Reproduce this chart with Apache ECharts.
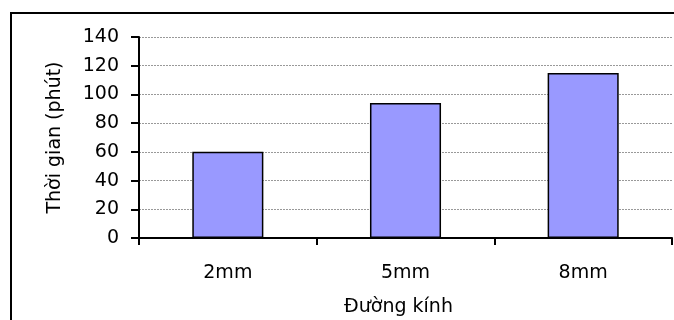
<!DOCTYPE html>
<html>
<head>
<meta charset="utf-8">
<script src="https://cdn.jsdelivr.net/npm/echarts@6/dist/echarts.min.js"></script>
<style>
html,body{margin:0;padding:0;background:#fff;}
#chart{width:674px;height:320px;}
</style>
</head>
<body>
<div id="chart"></div>
<script>
var categories = ['2mm', '5mm', '8mm'];
var values = [60, 94, 115];
var yTicks = { min: 0, max: 140, interval: 20 };
var xTitle = 'Đường kính';
var yTitle = 'Thời gian (phút)';

var FONT = 'DejaVu Sans';
var chart = echarts.init(document.getElementById('chart'), null, { renderer: 'canvas' });
chart.setOption({
  animation: false,
  backgroundColor: '#ffffff',
  graphic: [{
    type: 'rect',
    shape: { x: 11, y: 13, width: 800, height: 500 },
    style: { fill: 'none', stroke: '#000', lineWidth: 2 },
    silent: true,
    z: -1
  }],
  grid: { left: 139, right: 2, top: 37, bottom: 82, containLabel: false, outerBoundsMode: 'none' },
  xAxis: {
    type: 'category',
    data: categories,
    boundaryGap: true,
    name: xTitle,
    nameLocation: 'middle',
    nameGap: 60,
    nameTextStyle: { fontFamily: FONT, fontSize: 19, color: '#000', padding: [0, 14, 0, 0] },
    axisLine: { show: true, lineStyle: { color: '#000', width: 2 } },
    axisTick: { show: true, alignWithLabel: false, length: 7, lineStyle: { color: '#000', width: 2 } },
    axisLabel: { fontFamily: FONT, fontSize: 19, color: '#000', margin: 26 },
    splitLine: { show: false }
  },
  yAxis: {
    type: 'value',
    min: yTicks.min,
    max: yTicks.max,
    interval: yTicks.interval,
    name: yTitle,
    nameLocation: 'middle',
    nameGap: 74,
    nameTextStyle: { fontFamily: FONT, fontSize: 19, color: '#000' },
    axisLine: { show: true, lineStyle: { color: '#000', width: 2 } },
    axisTick: { show: true, length: 8, lineStyle: { color: '#000', width: 2 } },
    axisLabel: { fontFamily: FONT, fontSize: 19, color: '#000', margin: 20 },
    splitLine: { show: true, lineStyle: { color: '#999', width: 1, type: [2, 1] } }
  },
  series: [{
    type: 'bar',
    data: values,
    barWidth: '40%',
    itemStyle: { color: '#9999FF', borderColor: '#000', borderWidth: 1.5 }
  }]
});
</script>
</body>
</html>
